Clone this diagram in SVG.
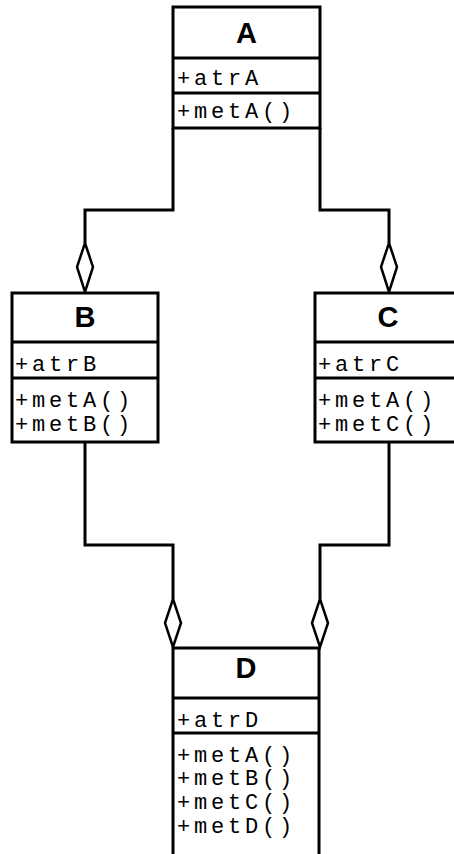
<svg xmlns="http://www.w3.org/2000/svg" width="454" height="854" viewBox="0 0 454 854">
<style>
.box{fill:#fff;stroke:#000;stroke-width:3}
.div{stroke:#000;stroke-width:3}
.hd{font-family:"Liberation Sans",Arial,sans-serif;font-weight:bold;font-size:29px;text-anchor:middle;fill:#000}
.m{font-family:"Liberation Mono","Courier New",monospace;font-size:22px;letter-spacing:3.8px;fill:#000}
.ln{fill:none;stroke:#000;stroke-width:3;stroke-linejoin:miter}
.dia{fill:#fff;stroke:#000;stroke-width:2.5}
</style>
<rect width="454" height="854" fill="#fff"/>
<g id="connectors">
<path class="ln" d="M173,128 V210 H85 V243"/>
<polygon class="dia" points="85,243 93,267 85,292 77,267"/>
<path class="ln" d="M320,128 V210 H389 V243"/>
<polygon class="dia" points="389,243 397,267 389,292 381,267"/>
<path class="ln" d="M85,442 V545 H173 V599"/>
<polygon class="dia" points="173,599 181,623 173,647 165,623"/>
<path class="ln" d="M389,442 V545 H320 V599"/>
<polygon class="dia" points="320,599 328,623 320,647 312,623"/>
</g>
<g id="A">
<rect class="box" x="173" y="7" width="147" height="121"/>
<line class="div" x1="173" y1="58" x2="320" y2="58"/>
<line class="div" x1="173" y1="93" x2="320" y2="93"/>
<text class="hd" x="246.5" y="43">A</text>
<text class="m" x="177" y="85">+atrA</text>
<text class="m" x="177" y="118">+metA()</text>
</g>
<g id="B">
<rect class="box" x="12" y="293" width="146" height="149"/>
<line class="div" x1="12" y1="342" x2="158" y2="342"/>
<line class="div" x1="12" y1="378" x2="158" y2="378"/>
<text class="hd" x="85" y="327">B</text>
<text class="m" x="15" y="371">+atrB</text>
<text class="m" x="15" y="407">+metA()</text>
<text class="m" x="15" y="431">+metB()</text>
</g>
<g id="C">
<rect class="box" x="315" y="293" width="146" height="149"/>
<line class="div" x1="315" y1="342" x2="461" y2="342"/>
<line class="div" x1="315" y1="378" x2="461" y2="378"/>
<text class="hd" x="388" y="327">C</text>
<text class="m" x="318" y="371">+atrC</text>
<text class="m" x="318" y="407">+metA()</text>
<text class="m" x="318" y="431">+metC()</text>
</g>
<g id="D">
<rect class="box" x="173" y="648" width="146" height="222"/>
<line class="div" x1="173" y1="698" x2="319" y2="698"/>
<line class="div" x1="173" y1="733" x2="319" y2="733"/>
<text class="hd" x="246" y="678">D</text>
<text class="m" x="177" y="727">+atrD</text>
<text class="m" x="177" y="762">+metA()</text>
<text class="m" x="177" y="785">+metB()</text>
<text class="m" x="177" y="809">+metC()</text>
<text class="m" x="177" y="833">+metD()</text>
</g>
</svg>
